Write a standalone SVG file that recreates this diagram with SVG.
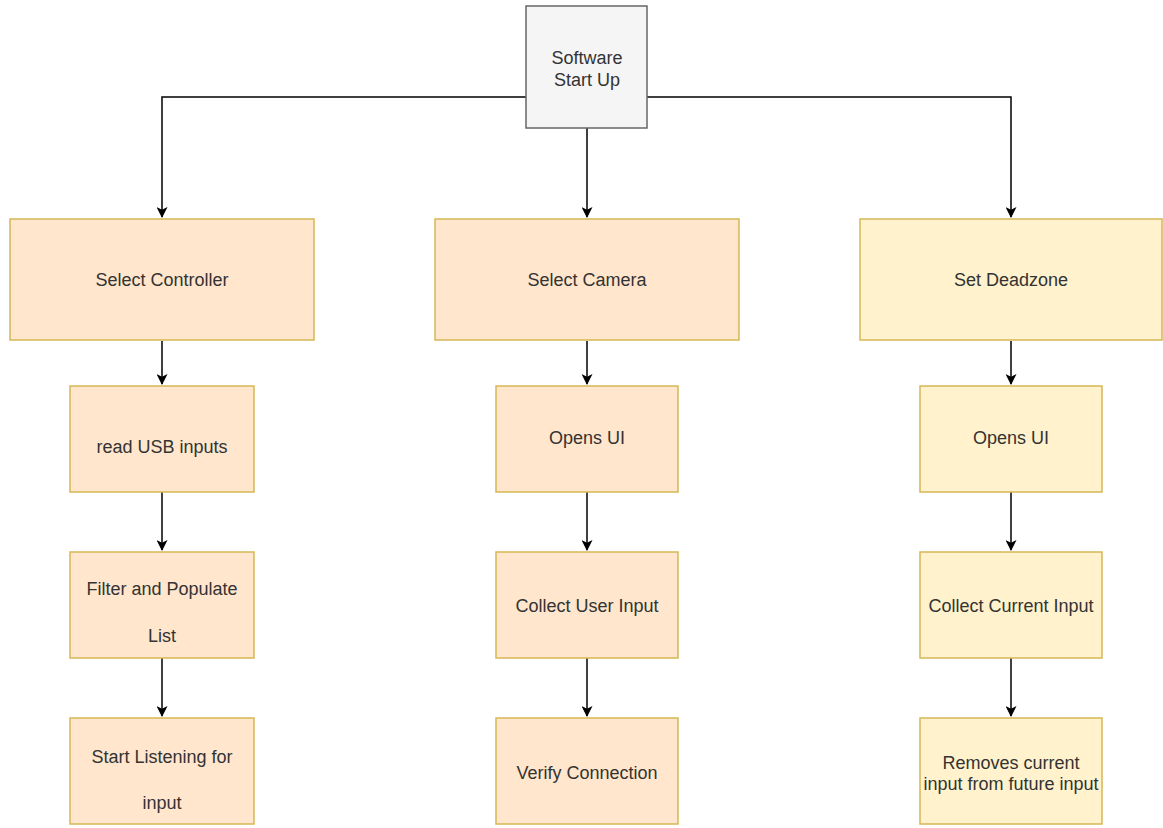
<svg xmlns="http://www.w3.org/2000/svg" width="1163" height="828" viewBox="0 0 1163 828">
<style>
.o{fill:#ffe6cc;stroke:#d6b656;stroke-width:1.5}
.y{fill:#fff2cc;stroke:#d6b656;stroke-width:1.5}
.g{fill:#f5f5f5;stroke:#666666;stroke-width:1.5}
text{font-family:"Liberation Sans",Arial,sans-serif;font-size:18px;fill:#333333;text-anchor:middle}
.c{fill:none;stroke:#000;stroke-width:1.5}
</style>
<defs>
<marker id="a" viewBox="0 0 10 10" refX="9" refY="5" markerWidth="12" markerHeight="11" markerUnits="userSpaceOnUse" orient="auto">
<path d="M0,0 L10,5 L0,10 L2.5,5 Z" fill="#000"/>
</marker>
</defs>
<rect width="1163" height="828" fill="#fff"/>
<g id="connectors">
<path class="c" d="M526,97 H162 V217" marker-end="url(#a)"/>
<path class="c" d="M587,128 V217" marker-end="url(#a)"/>
<path class="c" d="M647,97 H1011 V217" marker-end="url(#a)"/>
<path class="c" d="M162,341 V384" marker-end="url(#a)"/>
<path class="c" d="M162,492 V550" marker-end="url(#a)"/>
<path class="c" d="M162,658 V716" marker-end="url(#a)"/>
<path class="c" d="M587,341 V384" marker-end="url(#a)"/>
<path class="c" d="M587,492 V550" marker-end="url(#a)"/>
<path class="c" d="M587,658 V716" marker-end="url(#a)"/>
<path class="c" d="M1011,341 V384" marker-end="url(#a)"/>
<path class="c" d="M1011,492 V550" marker-end="url(#a)"/>
<path class="c" d="M1011,658 V716" marker-end="url(#a)"/>
</g>
<g id="start"><rect class="g" x="526" y="6" width="121" height="122"/><text x="587" y="64">Software</text><text x="587" y="86">Start Up</text></g>
<g id="selectController"><rect class="o" x="10" y="219" width="304" height="121"/><text x="162" y="286">Select Controller</text></g>
<g id="selectCamera"><rect class="o" x="435" y="219" width="304" height="121"/><text x="587" y="286">Select Camera</text></g>
<g id="setDeadzone"><rect class="y" x="860" y="219" width="302" height="121"/><text x="1011" y="286">Set Deadzone</text></g>
<g id="readUSB"><rect class="o" x="70" y="386" width="184" height="106"/><text x="162" y="453">read USB inputs</text></g>
<g id="filter"><rect class="o" x="70" y="552" width="184" height="106"/><text x="162" y="595">Filter and Populate</text><text x="162" y="642">List</text></g>
<g id="listen"><rect class="o" x="70" y="718" width="184" height="106"/><text x="162" y="763">Start Listening for</text><text x="162" y="809">input</text></g>
<g id="opensUI1"><rect class="o" x="496" y="386" width="182" height="106"/><text x="587" y="444">Opens UI</text></g>
<g id="collectUser"><rect class="o" x="496" y="552" width="182" height="106"/><text x="587" y="612">Collect User Input</text></g>
<g id="verify"><rect class="o" x="496" y="718" width="182" height="106"/><text x="587" y="779">Verify Connection</text></g>
<g id="opensUI2"><rect class="y" x="920" y="386" width="182" height="106"/><text x="1011" y="444">Opens UI</text></g>
<g id="collectCurrent"><rect class="y" x="920" y="552" width="182" height="106"/><text x="1011" y="612">Collect Current Input</text></g>
<g id="removes"><rect class="y" x="920" y="718" width="182" height="106"/><text x="1011" y="769">Removes current</text><text x="1011" y="790">input from future input</text></g>
</svg>
